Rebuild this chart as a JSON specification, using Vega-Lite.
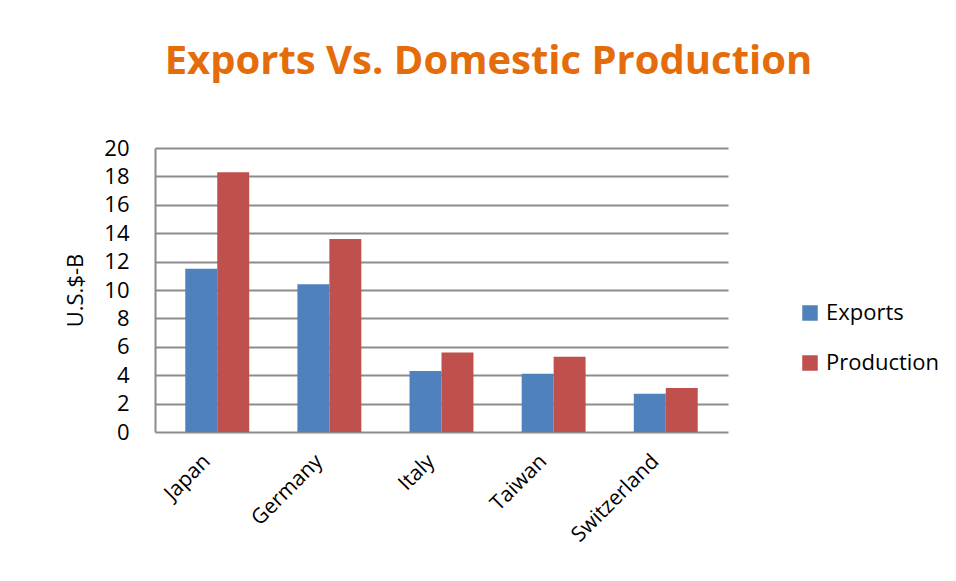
{
  "$schema": "https://vega.github.io/schema/vega-lite/v6.json",
  "autosize": {"type": "none"},
  "width": 573,
  "height": 284,
  "padding": {"left": 155, "top": 148, "right": 228, "bottom": 149},
  "background": "white",
  "title": {
    "text": "Exports Vs. Domestic Production",
    "anchor": "middle",
    "frame": "group",
    "color": "#E46C0A",
    "font": "Open Sans",
    "fontWeight": "bold",
    "fontSize": 40,
    "offset": 55,
    "dx": 47
  },
  "data": {
    "values": [
      {"country": "Japan", "series": "Exports", "value": 11.5},
      {"country": "Japan", "series": "Production", "value": 18.3},
      {"country": "Germany", "series": "Exports", "value": 10.4},
      {"country": "Germany", "series": "Production", "value": 13.6},
      {"country": "Italy", "series": "Exports", "value": 4.3},
      {"country": "Italy", "series": "Production", "value": 5.6},
      {"country": "Taiwan", "series": "Exports", "value": 4.1},
      {"country": "Taiwan", "series": "Production", "value": 5.3},
      {"country": "Switzerland", "series": "Exports", "value": 2.7},
      {"country": "Switzerland", "series": "Production", "value": 3.1}
    ]
  },
  "mark": {"type": "bar"},
  "encoding": {
    "x": {
      "field": "country",
      "type": "nominal",
      "sort": null,
      "scale": {"paddingInner": 0.43, "paddingOuter": 0.27},
      "axis": {
        "title": null,
        "labelAngle": -45,
        "labelAlign": "right",
        "labelBaseline": "middle",
        "labelFont": "Open Sans",
        "labelFontSize": 21,
        "labelColor": "#000000",
        "labelPadding": 26,
        "labelOffset": -10,
        "ticks": false,
        "domain": false
      }
    },
    "xOffset": {"field": "series", "type": "nominal"},
    "y": {
      "field": "value",
      "type": "quantitative",
      "scale": {"domain": [0, 20]},
      "axis": {
        "title": "U.S.$-B",
        "titleFont": "Open Sans",
        "titleFontSize": 22,
        "titleFontWeight": "normal",
        "titleColor": "#000000",
        "titlePadding": 16,
        "values": [0, 2, 4, 6, 8, 10, 12, 14, 16, 18, 20],
        "labelFont": "Open Sans",
        "labelFontSize": 22,
        "labelColor": "#000000",
        "labelPadding": 26,
        "ticks": false,
        "domain": true,
        "domainColor": "#8C8C8C",
        "domainWidth": 2,
        "grid": true,
        "gridColor": "#8C8C8C",
        "gridWidth": 2
      }
    },
    "color": {
      "field": "series",
      "type": "nominal",
      "scale": {"domain": ["Exports", "Production"], "range": ["#4F81BD", "#C0504D"]},
      "legend": {
        "title": null,
        "orient": "none",
        "legendX": 644,
        "legendY": 154,
        "symbolType": "square",
        "symbolSize": 240,
        "symbolStrokeWidth": 0,
        "symbolOpacity": 1,
        "labelFont": "Open Sans",
        "labelFontSize": 22,
        "labelColor": "#000000",
        "rowPadding": 28,
        "labelOffset": 5
      }
    }
  },
  "config": {"view": {"stroke": null}}
}
